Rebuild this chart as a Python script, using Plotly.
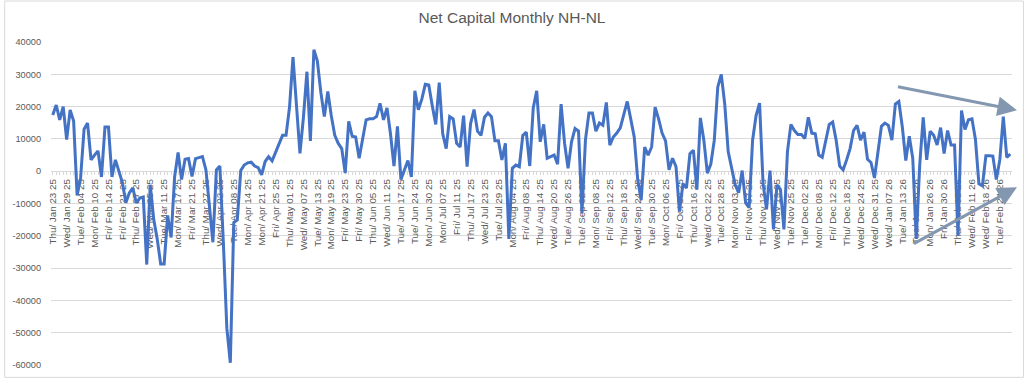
import pandas as pd
import plotly.graph_objects as go

# ---------------- data ----------------
start_date = "2025-01-23"
end_date = "2026-02-27"
market_holidays = [
    "2025-02-17", "2025-04-18", "2025-05-26", "2025-06-19", "2025-07-04",
    "2025-09-01", "2025-11-27", "2025-12-25", "2026-01-01", "2026-01-19",
    "2026-02-16",
]
label_every = 4

net_nh_nl = [
    17400, 20500, 15900, 20000, 9800, 19000, 15500, -7500, -2100, 13000,
    14900, 3500, 5000, 6300, -1800, 13700, 13700, -1800, 3500, 0,
    -3500, -9800, -6700, -5200, -9800, -8300, -8000, -28900, -4200, -14900,
    -21000, -28700, -28700, -13700, -20500, -1800, 5800, -2600, 3700, 3900,
    -1600, 3900, 4300, 4500, 400, -11800, -22000, 400, 1600, -22000,
    -48600, -59300, -15900, -15100, 200, 1900, 2600, 2800, 1600, 1100,
    -1100, 3000, 4500, 3200, 5900, 8600, 11100, 11100, 19800, 35300,
    20300, 5500, 16700, 30800, 9400, 37600, 34100, 24400, 16900, 24700,
    17200, 11100, 8600, 7000, -600, 15400, 10800, 10600, 4000, 9600,
    15900, 16200, 16200, 16900, 21000, 15900, 19600, 11600, 1600, 13900,
    -2600, 400, 3300, -1800, 24900, 19000, 22300, 26900, 26700, 20300,
    14500, 27400, 11600, 7000, 16900, 16200, 8600, 7500, 17200, 1400,
    14700, 19100, 12400, 11100, 16700, 18000, 16900, 9400, 9400, 3500,
    8600, -21000, 900, 1900, 1400, 11100, 12100, 1600, 19600, 24900,
    9100, 14500, 4000, 4500, 5000, 2200, 20800, 8600, 900, 9100,
    13200, 12400, -12900, 9800, 18000, 18000, 12400, 14900, 14200, 21300,
    8100, 10600, 11800, 13400, 17700, 21600, 16200, 10600, -2600, -9000,
    7500, 5000, 7500, 19800, 16200, 11800, 9400, 400, 4000, 1400,
    -12500, -3900, -5200, 5400, 6500, -5700, 16500, 9600, -600, 2200,
    9600, 26100, 30000, 20800, 6000, 400, -4200, -6700, 200, -9800,
    -11300, 9600, 17200, 21100, -3700, -11800, 200, -18000, -4200, -5700,
    -18000, 6000, 14500, 12600, 11400, 11400, 10100, 16700, 11800, 11600,
    5000, 4300, 9800, 14500, 15200, 9600, 1600, 400, 3500, 7000,
    12600, 14200, 9600, 12100, 3700, 2700, -2100, 6500, 13900, 14900,
    14200, 9600, 20800, 21600, 13700, 3300, 10800, 4000, -21000, 2000,
    16700, 3500, 12400, 11100, 8100, 13500, 5500, 12600, 8100, 8100,
    -20000, 18800, 12900, 15900, 16200, 9800, -3900, -4500, 4800, 4800,
    4700, -2600, 3500, 16900, 4300, 5300,
]

y_ticks = [40000, 30000, 20000, 10000, 0, -10000, -20000, -30000, -40000, -50000, -60000]
title_text = "Net Capital Monthly NH-NL"

# ---------------- categories ----------------
bday = pd.offsets.CustomBusinessDay(holidays=market_holidays)
dates = pd.date_range(start_date, end_date, freq=bday)
categories = [d.strftime("%a/ %b %d %y") for d in dates]
n = min(len(categories), len(net_nh_nl))
categories = categories[:n]
values = net_nh_nl[:n]
tick_text = [c if i % label_every == 0 else "" for i, c in enumerate(categories)]

# ---------------- figure ----------------
W, H = 1024, 382
ML, MR, MT, MB = 47, 12, 42, 13
pw, ph = W - ML - MR, H - MT - MB

def px_x(x):
    return (x - ML) / pw

def px_y(y):
    return (H - MB - y) / ph

FONT = "Liberation Sans"
GREY = "#595959"

fig = go.Figure()
fig.add_trace(go.Scatter(
    x=categories, y=values, mode="lines",
    line=dict(color="#4472C4", width=3),
    hoverinfo="x+y", showlegend=False,
))

ymin, ymax = -60000, 40000
fig.update_layout(
    width=W, height=H,
    margin=dict(l=ML, r=MR, t=MT, b=MB, pad=0),
    paper_bgcolor="white", plot_bgcolor="white",
    title=dict(text=title_text, x=0.5, xref="container", xanchor="center",
               y=1 - 18 / H, yref="container", yanchor="middle",
               font=dict(family=FONT, size=15.5, color=GREY)),
    xaxis=dict(
        type="category", range=[-0.5, n - 0.5],
        anchor="free", position=(0 - ymin) / (ymax - ymin),
        tickmode="array", tickvals=categories, ticktext=tick_text,
        tickangle=-90, ticks="outside", ticklen=3, tickcolor="#d9d9d9",
        showline=True, linecolor="#d9d9d9", linewidth=1,
        showgrid=False, zeroline=False, layer="below traces",
        tickfont=dict(family=FONT, size=9.8, color=GREY),
    ),
    yaxis=dict(
        range=[ymin, ymax], tickmode="array", tickvals=y_ticks,
        ticktext=[str(v) for v in y_ticks],
        showgrid=True, gridcolor="#d9d9d9", gridwidth=1,
        zeroline=False, showline=False, ticks="",
        ticklabelstandoff=9,
        tickfont=dict(family=FONT, size=9.2, color=GREY),
    ),
)

# chart border
fig.add_shape(type="rect", xref="paper", yref="paper",
              x0=px_x(0.5), x1=px_x(1023.5), y0=px_y(381.5), y1=px_y(0.5),
              line=dict(color="#d9d9d9", width=1), layer="above")

# trend arrows
arrow_col = "#8497B0"
for (tx, ty, hx, hy) in [(896, 87, 1017, 111), (912, 247, 1017, 189)]:
    fig.add_annotation(
        x=px_x(hx), y=px_y(hy), xref="x domain", yref="y domain",
        ax=px_x(tx), ay=px_y(ty), axref="x domain", ayref="y domain",
        showarrow=True, arrowhead=2, arrowsize=1.3, arrowwidth=3,
        arrowcolor=arrow_col, text="",
    )

fig.write_html(
    "out.html",
    config={"displayModeBar": False},
    post_script="document.body.style.margin='0';document.body.style.padding='0';",
)
